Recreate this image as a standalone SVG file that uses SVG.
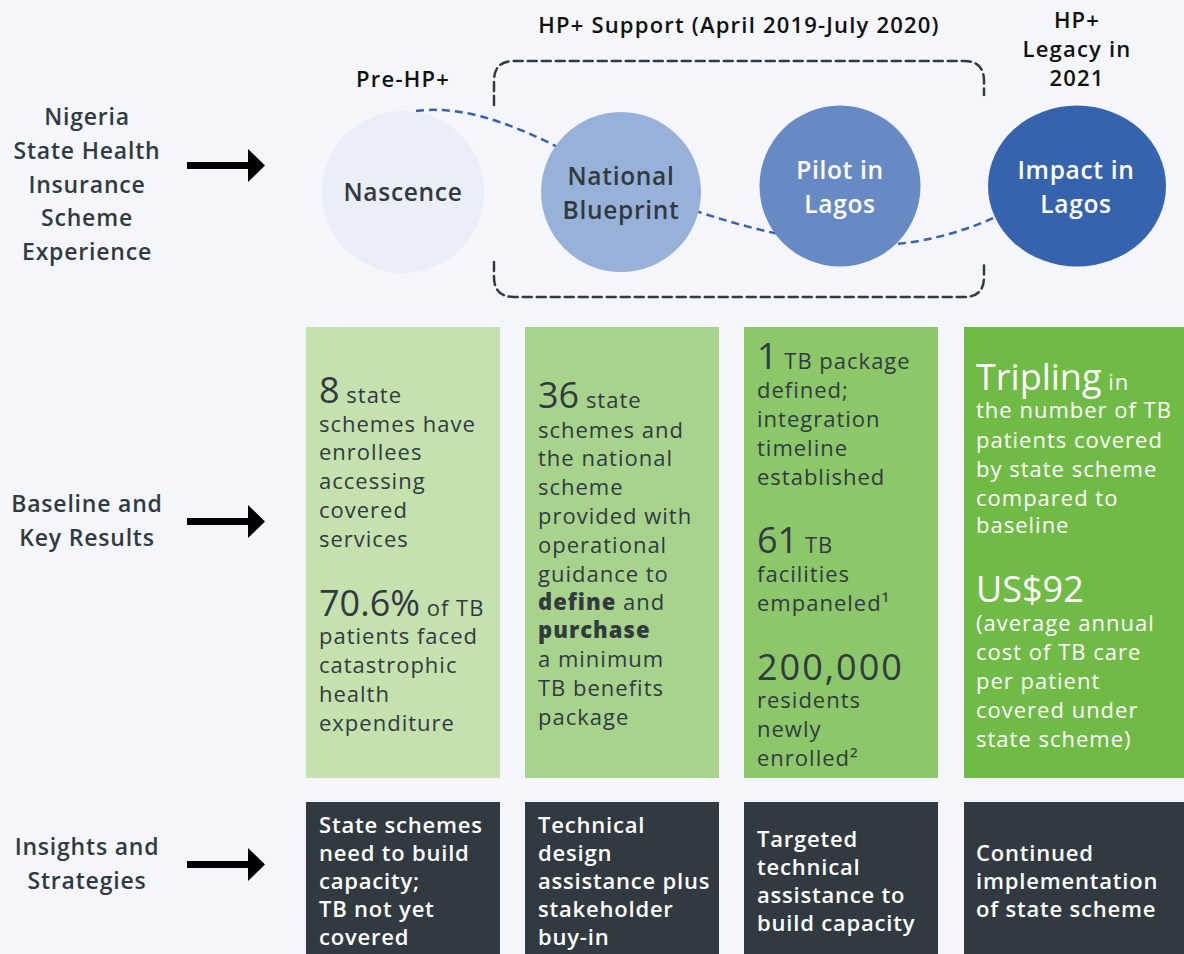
<svg xmlns="http://www.w3.org/2000/svg" width="1184" height="954" viewBox="0 0 1184 954">
<defs>
<style>
.bg{fill:#f4f6fb}
.lbl{font-family:"Open Sans","Liberation Sans",sans-serif;font-size:23px;font-weight:600;fill:#323a41;text-anchor:middle;letter-spacing:0.8px}
.hdr{font-family:"Open Sans","Liberation Sans",sans-serif;font-size:22px;font-weight:600;fill:#111;text-anchor:middle;letter-spacing:1.2px}
.ctx{font-family:"Open Sans","Liberation Sans",sans-serif;font-size:24.5px;font-weight:600;text-anchor:middle;letter-spacing:0.7px}
.body{font-family:"Open Sans","Liberation Sans",sans-serif;font-size:22px;font-weight:400;fill:#323a41;letter-spacing:1px}
.wbody{fill:#ffffff}
.big{font-size:36px;letter-spacing:0}
.wide{letter-spacing:2px}
.b{font-weight:800}
.dk{font-family:"Open Sans","Liberation Sans",sans-serif;font-size:22px;font-weight:600;fill:#ffffff;letter-spacing:0.8px}
.bracket{fill:none;stroke:#323a41;stroke-width:2.5;stroke-dasharray:9 5;stroke-linecap:round}
.flow{fill:none;stroke:#3563ae;stroke-width:2.5;stroke-dasharray:8 5}
.arrow{fill:#000}
</style>
</defs>
<rect class="bg" x="0" y="0" width="1184" height="954"/>

<g id="row-labels">
  <text class="lbl"><tspan x="87" y="125">Nigeria</tspan><tspan x="87" y="159">State Health</tspan><tspan x="87" y="193">Insurance</tspan><tspan x="87" y="226">Scheme</tspan><tspan x="87" y="260">Experience</tspan></text>
  <text class="lbl"><tspan x="87" y="512">Baseline and</tspan><tspan x="87" y="546">Key Results</tspan></text>
  <text class="lbl"><tspan x="87" y="855">Insights and</tspan><tspan x="87" y="889">Strategies</tspan></text>
</g>

<g id="row-arrows">
  <path class="arrow" d="M187,162 H248 V149 L265,165.5 L248,182 V169 H187 Z"/>
  <path class="arrow" d="M187,518 H248 V505 L265,521.5 L248,538 V525 H187 Z"/>
  <path class="arrow" d="M187,861 H248 V848 L265,864.5 L248,881 V868 H187 Z"/>
</g>

<g id="headers">
  <text class="hdr" x="739" y="33">HP+ Support (April 2019-July 2020)</text>
  <text class="hdr" x="403" y="87">Pre-HP+</text>
  <text class="hdr"><tspan x="1077" y="28">HP+</tspan><tspan x="1077" y="57">Legacy in</tspan><tspan x="1077" y="86">2021</tspan></text>
</g>

<g id="connectors">
  <path class="flow" d="M416,111 C470,104 530,130 600,170 C660,203 760,236 840,244 C900,250 960,236 1010,210"/>
  <path class="bracket" d="M494,105 V81 Q494,61 514,61 H964 Q984,61 984,81 V95"/>
  <path class="bracket" d="M494,262 V277 Q494,297 514,297 H964 Q984,297 984,277 V262"/>
</g>

<g id="node-nascence">
  <circle cx="403" cy="192" r="81" fill="#e9eef7"/>
  <text class="ctx" x="403" y="201" fill="#323a41">Nascence</text>
</g>
<g id="node-blueprint">
  <circle cx="621" cy="192" r="80" fill="#98b1d8"/>
  <text class="ctx" fill="#323a41"><tspan x="621" y="185">National</tspan><tspan x="621" y="219">Blueprint</tspan></text>
</g>
<g id="node-pilot">
  <circle cx="840" cy="186" r="80.5" fill="#6789c4"/>
  <text class="ctx" fill="#ffffff"><tspan x="840" y="179">Pilot in</tspan><tspan x="840" y="213">Lagos</tspan></text>
</g>
<g id="node-impact">
  <ellipse cx="1077" cy="186" rx="89" ry="80.5" fill="#3563ae"/>
  <text class="ctx" fill="#ffffff"><tspan x="1076" y="179">Impact in</tspan><tspan x="1076" y="213">Lagos</tspan></text>
</g>

<g id="results-1">
  <rect x="306" y="327" width="194" height="451" fill="#c4e1ae"/>
  <text class="body"><tspan x="319" y="403"><tspan class="big">8</tspan> state</tspan><tspan x="319" y="432">schemes have</tspan><tspan x="319" y="460">enrollees</tspan><tspan x="319" y="489">accessing</tspan><tspan x="319" y="518">covered</tspan><tspan x="319" y="547">services</tspan><tspan x="319" y="616"><tspan class="big">70.6%</tspan> of TB</tspan><tspan x="319" y="644">patients faced</tspan><tspan x="319" y="673">catastrophic</tspan><tspan x="319" y="702">health</tspan><tspan x="319" y="731">expenditure</tspan></text>
</g>
<g id="results-2">
  <rect x="525" y="327" width="194" height="451" fill="#a8d38c"/>
  <text class="body"><tspan x="538" y="408"><tspan class="big">36</tspan> state</tspan><tspan x="538" y="438">schemes and</tspan><tspan x="538" y="466">the national</tspan><tspan x="538" y="495">scheme</tspan><tspan x="538" y="524">provided with</tspan><tspan x="538" y="553">operational</tspan><tspan x="538" y="582">guidance to</tspan><tspan x="538" y="610"><tspan class="b">define</tspan> and</tspan><tspan x="538" y="638" class="b">purchase</tspan><tspan x="538" y="667">a minimum</tspan><tspan x="538" y="696">TB benefits</tspan><tspan x="538" y="725">package</tspan></text>
</g>
<g id="results-3">
  <rect x="744" y="327" width="194" height="451" fill="#8cc76a"/>
  <text class="body"><tspan x="757" y="369"><tspan class="big">1</tspan> TB package</tspan><tspan x="757" y="398">defined;</tspan><tspan x="757" y="427">integration</tspan><tspan x="757" y="456">timeline</tspan><tspan x="757" y="485">established</tspan><tspan x="757" y="553"><tspan class="big">61</tspan> TB</tspan><tspan x="757" y="582">facilities</tspan><tspan x="757" y="611">empaneled¹</tspan><tspan x="757" y="680" class="big wide">200,000</tspan><tspan x="757" y="708">residents</tspan><tspan x="757" y="737">newly</tspan><tspan x="757" y="766">enrolled²</tspan></text>
</g>
<g id="results-4">
  <rect x="964" y="327" width="220" height="451" fill="#6fbb46"/>
  <text class="body wbody"><tspan x="976" y="390"><tspan class="big">Tripling</tspan> in</tspan><tspan x="976" y="418">the number of TB</tspan><tspan x="976" y="448">patients covered</tspan><tspan x="976" y="477">by state scheme</tspan><tspan x="976" y="506">compared to</tspan><tspan x="976" y="533">baseline</tspan><tspan x="976" y="602" class="big">US$92</tspan><tspan x="976" y="631">(average annual</tspan><tspan x="976" y="660">cost of TB care</tspan><tspan x="976" y="689">per patient</tspan><tspan x="976" y="718">covered under</tspan><tspan x="976" y="747">state scheme)</tspan></text>
</g>

<g id="insight-1">
  <rect x="306" y="802" width="194" height="152" fill="#323a41"/>
  <text class="dk"><tspan x="319" y="833">State schemes</tspan><tspan x="319" y="861">need to build</tspan><tspan x="319" y="889">capacity;</tspan><tspan x="319" y="917">TB not yet</tspan><tspan x="319" y="945">covered</tspan></text>
</g>
<g id="insight-2">
  <rect x="525" y="802" width="194" height="152" fill="#323a41"/>
  <text class="dk"><tspan x="538" y="833">Technical</tspan><tspan x="538" y="861">design</tspan><tspan x="538" y="889">assistance plus</tspan><tspan x="538" y="917">stakeholder</tspan><tspan x="538" y="945">buy-in</tspan></text>
</g>
<g id="insight-3">
  <rect x="744" y="802" width="194" height="152" fill="#323a41"/>
  <text class="dk"><tspan x="757" y="847">Targeted</tspan><tspan x="757" y="875">technical</tspan><tspan x="757" y="903">assistance to</tspan><tspan x="757" y="931">build capacity</tspan></text>
</g>
<g id="insight-4">
  <rect x="964" y="802" width="220" height="152" fill="#323a41"/>
  <text class="dk"><tspan x="976" y="861">Continued</tspan><tspan x="976" y="889">implementation</tspan><tspan x="976" y="917">of state scheme</tspan></text>
</g>
</svg>
